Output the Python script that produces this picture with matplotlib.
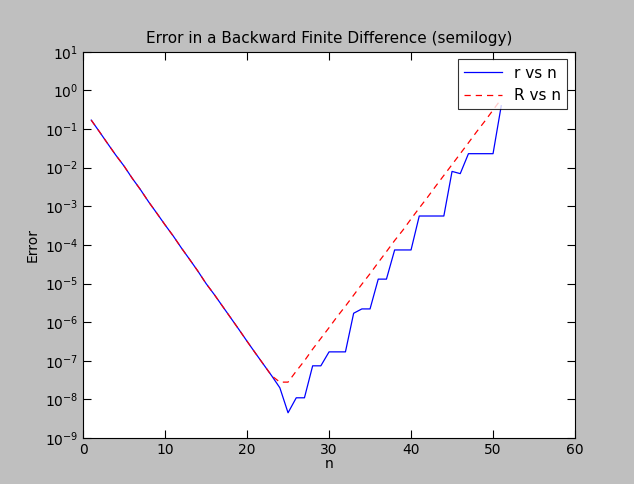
import matplotlib
matplotlib.use("Agg")
import matplotlib.pyplot as plt
from matplotlib.ticker import LogLocator, NullLocator

n = list(range(1, 52))
head = [0.17,0.085,0.042,0.021,0.011,0.0053,0.0027,0.0013,6.6e-4,3.3e-4,1.7e-4,8.3e-5,
        4.2e-5,2.1e-5,1.0e-5,5.2e-6,2.6e-6,1.3e-6,6.5e-7,3.2e-7,1.6e-7,8.1e-8,4.1e-8]
r_tail = [2e-8,4.5e-9,1.1e-8,1.1e-8,7.4e-8,7.4e-8,1.7e-7,1.7e-7,1.7e-7,1.7e-6,2.2e-6,2.2e-6,1.3e-5,1.3e-5,
          7.4e-5,7.4e-5,7.4e-5,5.6e-4,5.6e-4,5.6e-4,5.6e-4,8e-3,7e-3,2.3e-2,2.3e-2,2.3e-2,2.3e-2,0.4]
R_tail = [2.8e-8,2.8e-8,5.4e-8,1.0e-7,2.0e-7,3.8e-7,7.2e-7,1.4e-6,2.6e-6,5.0e-6,9.6e-6,1.8e-5,3.5e-5,
          6.7e-5,1.3e-4,2.4e-4,4.7e-4,9.0e-4,1.7e-3,3.3e-3,6.3e-3,1.2e-2,2.3e-2,4.4e-2,8.5e-2,0.16,0.31,0.6]
r = head + r_tail
R = head + R_tail

fig = plt.figure(figsize=(6.34, 4.84), dpi=100, facecolor="#bfbfbf")
ax = fig.add_axes([0.131, 0.095, 0.776, 0.798])
ax.semilogy(n, r, color="blue", lw=0.9, label="r vs n")
ax.semilogy(n, R, color="red", lw=0.9, ls="--", dashes=(5, 4), label="R vs n")
ax.set_xlim(0, 60)
ax.set_ylim(1e-9, 1e1)
ax.yaxis.set_major_locator(LogLocator(base=10, numticks=20))
ax.yaxis.set_minor_locator(NullLocator())
ax.set_title("Error in a Backward Finite Difference (semilogy)", fontsize=11)
ax.set_xlabel("n", fontsize=10, labelpad=0)
ax.set_ylabel("Error", fontsize=10)
ax.tick_params(direction="in", which="both", top=True, right=True, labelsize=10, length=6)
leg = ax.legend(loc="upper right", fancybox=False, edgecolor="black", fontsize=11, handlelength=2.5)
leg.get_frame().set_linewidth(0.8)
fig.savefig("out.png", dpi=100, facecolor=fig.get_facecolor())
